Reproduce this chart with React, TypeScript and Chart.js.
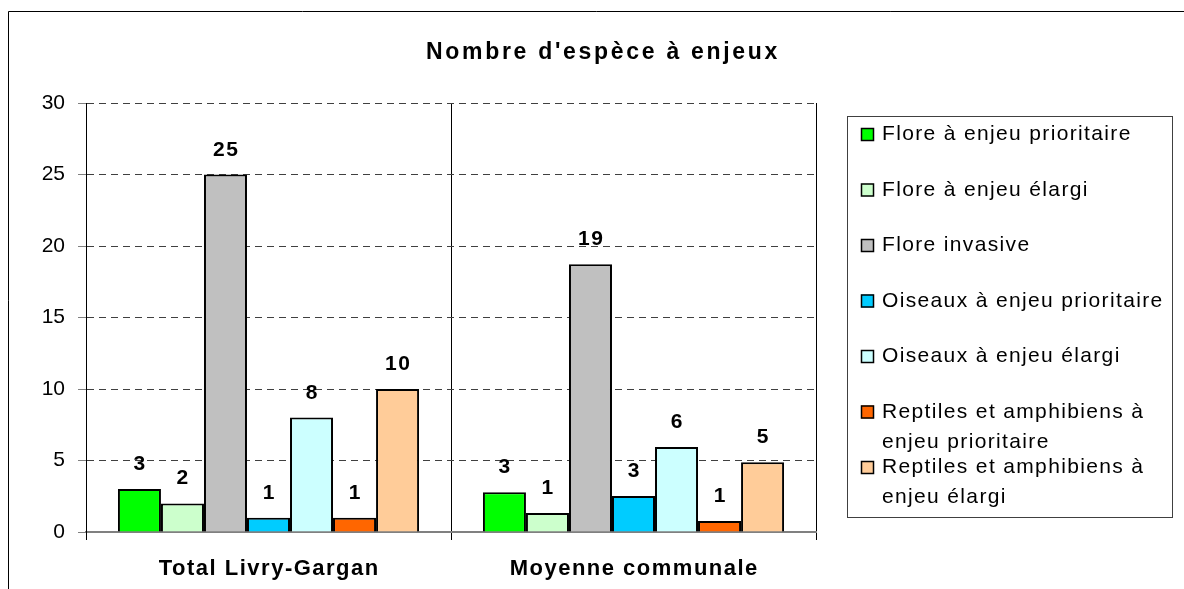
import React, { useEffect, useRef } from "react";
import { Chart, registerables } from "chart.js";

Chart.register(...registerables);

const chartTitle = "Nombre d'espèce à enjeux";
const categories = ["Total Livry-Gargan", "Moyenne communale"];
const seriesNames = [
  "Flore à enjeu prioritaire",
  "Flore à enjeu élargi",
  "Flore invasive",
  "Oiseaux à enjeu prioritaire",
  "Oiseaux à enjeu élargi",
  "Reptiles et amphibiens à enjeu prioritaire",
  "Reptiles et amphibiens à enjeu élargi",
];
const seriesColors = ["#00FF00", "#CCFFCC", "#C0C0C0", "#00CCFF", "#CCFFFF", "#FF6600", "#FFCC99"];
const floreEnjeuPrioritaire = [3, 2.78];
const floreEnjeuElargi = [2, 1.33];
const floreInvasive = [25, 18.72];
const oiseauxEnjeuPrioritaire = [1, 2.52];
const oiseauxEnjeuElargi = [8, 5.94];
const reptilesEnjeuPrioritaire = [1, 0.77];
const reptilesEnjeuElargi = [10, 4.87];
const seriesValues = [
  floreEnjeuPrioritaire,
  floreEnjeuElargi,
  floreInvasive,
  oiseauxEnjeuPrioritaire,
  oiseauxEnjeuElargi,
  reptilesEnjeuPrioritaire,
  reptilesEnjeuElargi,
];
const yMin = 0;
const yMax = 30;
const yStep = 5;

const FONT = '"Liberation Sans", Arial, Helvetica, sans-serif';

function setSpacing(ctx: any, s: number) {
  try {
    ctx.letterSpacing = s + "px";
  } catch (e) {}
}

function wrapText(ctx: CanvasRenderingContext2D, text: string, maxW: number): string[] {
  const words = text.split(" ");
  const lines: string[] = [];
  let cur = "";
  for (const w of words) {
    const test = cur ? cur + " " + w : w;
    if (cur && ctx.measureText(test).width > maxW) {
      lines.push(cur);
      cur = w;
    } else {
      cur = test;
    }
  }
  if (cur) lines.push(cur);
  return lines;
}

const decorPlugin = {
  id: "decor",
  beforeDraw(chart: any) {
    const ctx = chart.ctx;
    ctx.save();
    ctx.fillStyle = "#ffffff";
    ctx.fillRect(0, 0, chart.width, chart.height);
    ctx.strokeStyle = "#000000";
    ctx.lineWidth = 1;
    ctx.beginPath();
    ctx.moveTo(8.5, chart.height + 5);
    ctx.lineTo(8.5, 11.5);
    ctx.lineTo(chart.width + 5, 11.5);
    ctx.stroke();
    ctx.restore();
  },
  afterDatasetsDraw(chart: any) {
    const ctx = chart.ctx;
    ctx.save();
    ctx.fillStyle = "#000000";
    ctx.font = `bold 21px ${FONT}`;
    setSpacing(ctx, 1.5);
    ctx.textAlign = "center";
    ctx.textBaseline = "alphabetic";
    chart.data.datasets.forEach((ds: any, di: number) => {
      const meta = chart.getDatasetMeta(di);
      meta.data.forEach((el: any, i: number) => {
        const v = ds.data[i];
        ctx.fillText(String(Math.round(v)), el.x + 0.75, el.y - 19);
      });
    });
    ctx.restore();
  },
  afterDraw(chart: any) {
    const ctx = chart.ctx;
    ctx.save();
    ctx.fillStyle = "#000000";
    // title
    ctx.font = `bold 23px ${FONT}`;
    setSpacing(ctx, 2.7);
    ctx.textAlign = "center";
    ctx.textBaseline = "alphabetic";
    ctx.fillText(chartTitle, 603, 59);
    // category labels
    const xs = chart.scales.x;
    ctx.font = `bold 22px ${FONT}`;
    setSpacing(ctx, 1.5);
    categories.forEach((c, i) => {
      ctx.fillText(c, xs.getPixelForValue(i) + 0.75, 575);
    });
    // legend
    ctx.strokeStyle = "#404040";
    ctx.lineWidth = 1;
    ctx.strokeRect(847.5, 116.5, 325, 401);
    ctx.font = `21px ${FONT}`;
    setSpacing(ctx, 1.35);
    ctx.textAlign = "left";
    seriesNames.forEach((name, i) => {
      const base = 140 + i * 55.5;
      ctx.fillStyle = seriesColors[i];
      ctx.fillRect(861, base - 12, 13, 13);
      ctx.strokeStyle = "#000000";
      ctx.lineWidth = 1.5;
      ctx.strokeRect(861.5, base - 11.5, 12, 12);
      ctx.fillStyle = "#000000";
      const lines = wrapText(ctx, name, 288);
      lines.forEach((ln, li) => {
        ctx.fillText(ln, 882, base + li * 30);
      });
    });
    ctx.restore();
  },
};

export default function App() {
  const canvasRef = useRef<HTMLCanvasElement | null>(null);

  useEffect(() => {
    if (!canvasRef.current) return;
    const chart = new Chart(canvasRef.current, {
      type: "bar",
      data: {
        labels: categories,
        datasets: seriesNames.map((name, i) => ({
          label: name,
          data: seriesValues[i],
          backgroundColor: seriesColors[i],
          borderColor: "#000000",
          borderWidth: 2,
          categoryPercentage: 0.825,
          barPercentage: 1,
        })),
      },
      options: {
        responsive: false,
        animation: false,
        events: [],
        layout: { padding: { top: 103, left: 0, right: 368, bottom: 0 } },
        plugins: {
          legend: { display: false },
          title: { display: false },
          tooltip: { enabled: false },
        },
        scales: {
          x: {
            afterFit(scale: any) {
              scale.height = 57;
            },
            ticks: { display: false },
            grid: {
              display: true,
              offset: true,
              color: "#000000",
              lineWidth: 1,
              tickLength: 8,
              drawTicks: true,
            },
            border: { display: true, color: "#808080", width: 2 },
          },
          y: {
            min: yMin,
            max: yMax,
            afterFit(scale: any) {
              scale.width = 86;
            },
            ticks: {
              stepSize: yStep,
              padding: 13,
              color: "#000000",
              font: { family: FONT, size: 21 },
            },
            grid: {
              color: (c: any) => (c.tick && c.tick.value === 0 ? "rgba(0,0,0,0)" : "#404040"),
              tickColor: "#808080",
              lineWidth: 1,
              tickLength: 8,
              drawTicks: true,
              tickBorderDash: [],
            } as any,
            border: { display: true, color: "#000000", width: 1, dash: [7, 5] },
          },
        },
      },
      plugins: [decorPlugin],
    });
    return () => chart.destroy();
  }, []);

  return (
    <div style={{ position: "fixed", left: 0, top: 0, width: 1184, height: 589, background: "#fff" }}>
      <canvas ref={canvasRef} width={1184} height={589} style={{ display: "block" }} />
    </div>
  );
}
